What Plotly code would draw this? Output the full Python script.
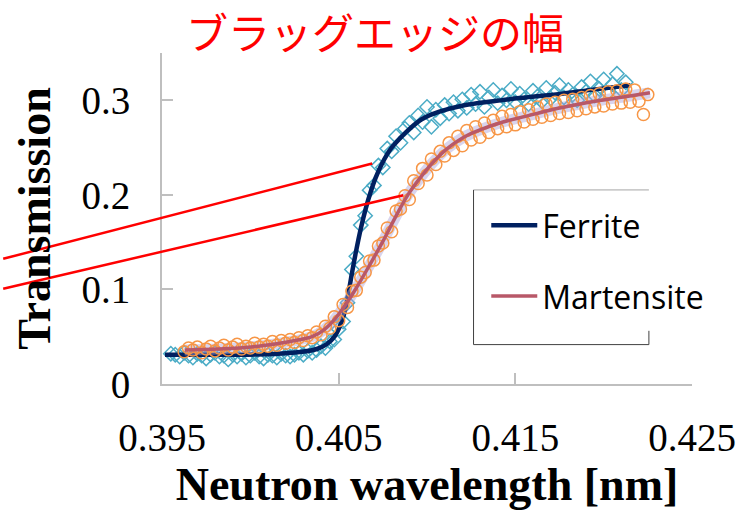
import plotly.graph_objects as go

# ---------------- data ----------------
wavelength = [
    0.39550, 0.39575, 0.39600, 0.39625, 0.39650, 0.39675, 0.39700, 0.39725, 0.39750, 0.39775,
    0.39800, 0.39825, 0.39850, 0.39875, 0.39900, 0.39925, 0.39950, 0.39975, 0.40000, 0.40025,
    0.40050, 0.40075, 0.40100, 0.40125, 0.40150, 0.40175, 0.40200, 0.40225, 0.40250, 0.40275,
    0.40300, 0.40325, 0.40350, 0.40375, 0.40400, 0.40425, 0.40450, 0.40475, 0.40500, 0.40525,
    0.40550, 0.40575, 0.40600, 0.40625, 0.40650, 0.40675, 0.40700, 0.40725, 0.40750, 0.40775,
    0.40800, 0.40825, 0.40850, 0.40875, 0.40900, 0.40925, 0.40950, 0.40975, 0.41000, 0.41025,
    0.41050, 0.41075, 0.41100, 0.41125, 0.41150, 0.41175, 0.41200, 0.41225, 0.41250, 0.41275,
    0.41300, 0.41325, 0.41350, 0.41375, 0.41400, 0.41425, 0.41450, 0.41475, 0.41500, 0.41525,
    0.41550, 0.41575, 0.41600, 0.41625, 0.41650, 0.41675, 0.41700, 0.41725, 0.41750, 0.41775,
    0.41800, 0.41825, 0.41850, 0.41875, 0.41900, 0.41925, 0.41950, 0.41975, 0.42000, 0.42025,
    0.42050, 0.42075, 0.42100, 0.42125, 0.42150, 0.42175, 0.42200, 0.42225, 0.42250,
]

ferrite_data = [
    0.032, 0.031, 0.029, 0.033, 0.030, 0.028, 0.032, 0.030, 0.027, 0.031,
    0.033, 0.029, 0.030, 0.026, 0.031, 0.029, 0.032, 0.028, 0.030, 0.033,
    0.029, 0.027, 0.031, 0.030, 0.028, 0.032, 0.030, 0.029, 0.031, 0.033,
    0.031, 0.035, 0.033, 0.036, 0.040, 0.038, 0.045, 0.047, 0.058, 0.066,
    0.086, 0.121, 0.135, 0.168, 0.178, 0.205, 0.210, 0.231, 0.229, 0.249,
    0.246, 0.262, 0.255, 0.270, 0.276, 0.266, 0.284, 0.277, 0.293, 0.272,
    0.290, 0.281, 0.295, 0.286, 0.298, 0.289, 0.301, 0.292, 0.306, 0.296,
    0.309, 0.293, 0.303, 0.311, 0.297, 0.305, 0.300, 0.312, 0.298, 0.307,
    0.301, 0.296, 0.310, 0.304, 0.299, 0.313, 0.302, 0.308, 0.316, 0.303,
    0.311, 0.306, 0.300, 0.314, 0.309, 0.320, 0.305, 0.312, 0.322, 0.308,
    0.317, 0.328, 0.311, 0.319, None, None, None, None, None,
]

martensite_data = [
    None, None, None, 0.034, 0.038, 0.036, 0.039, 0.033, 0.037, 0.040,
    0.035, 0.038, 0.041, 0.036, 0.039, 0.042, 0.037, 0.040, 0.038, 0.043,
    0.039, 0.042, 0.040, 0.045, 0.041, 0.046, 0.043, 0.047, 0.044, 0.049,
    0.046, 0.051, 0.049, 0.055, 0.052, 0.061, 0.059, 0.071, 0.067, 0.084,
    0.081, 0.098, 0.099, 0.113, 0.118, 0.130, 0.131, 0.146, 0.149, 0.165,
    0.161, 0.183, 0.185, 0.199, 0.195, 0.215, 0.212, 0.228, 0.221, 0.238,
    0.232, 0.246, 0.241, 0.255, 0.247, 0.262, 0.252, 0.268, 0.258, 0.272,
    0.261, 0.276, 0.266, 0.279, 0.270, 0.283, 0.272, 0.285, 0.274, 0.288,
    0.277, 0.290, 0.280, 0.293, 0.282, 0.296, 0.284, 0.298, 0.286, 0.300,
    0.287, 0.301, 0.289, 0.303, 0.291, 0.305, 0.293, 0.307, 0.294, 0.309,
    0.296, 0.310, 0.297, 0.312, 0.298, 0.311, 0.299, 0.285, 0.306,
]

ferrite_fit_wl = [0.39517, 0.39711, 0.39933, 0.40154, 0.40293, 0.40376, 0.40432, 0.40476,
                  0.40509, 0.40532, 0.40554, 0.40576, 0.40598, 0.40626, 0.40654, 0.40681,
                  0.40709, 0.40748, 0.40792, 0.40848, 0.40903, 0.40970, 0.41070, 0.41192,
                  0.41375, 0.41558, 0.41763, 0.41929, 0.42151]
ferrite_fit = [0.031, 0.031, 0.031, 0.032, 0.034, 0.037, 0.042, 0.050,
               0.062, 0.075, 0.095, 0.118, 0.140, 0.165, 0.186, 0.203,
               0.218, 0.234, 0.248, 0.260, 0.270, 0.280, 0.288, 0.294,
               0.299, 0.303, 0.307, 0.311, 0.316]

martensite_fit_wl = [0.39628, 0.39822, 0.40044, 0.40227, 0.40349, 0.40415, 0.40476, 0.40543,
                     0.40598, 0.40670, 0.40748, 0.40820, 0.40892, 0.40970, 0.41042, 0.41114,
                     0.41208, 0.41303, 0.41430, 0.41558, 0.41707, 0.41835, 0.41985, 0.42112,
                     0.42262]
martensite_fit = [0.036, 0.037, 0.040, 0.045, 0.050, 0.057, 0.068, 0.085,
                  0.101, 0.124, 0.150, 0.176, 0.200, 0.220, 0.236, 0.249,
                  0.261, 0.269, 0.277, 0.283, 0.290, 0.295, 0.300, 0.3035,
                  0.308]

x_ticks = [0.395, 0.405, 0.415, 0.425]
x_tick_labels = ["0.395", "0.405", "0.415", "0.425"]
y_ticks = [0, 0.1, 0.2, 0.3]
y_tick_labels = ["0", "0.1", "0.2", "0.3"]
X_RANGE = [0.395, 0.425]
Y_RANGE = [0, 0.35]

title_text = "ブラッグエッジの幅"
x_title = "Neutron wavelength [nm]"
y_title = "Transmission"
series_names = ["Ferrite", "Martensite"]

# annotation lines (edge width markers) in data units: (x0, y0, x1, y1)
edge_lines = [(0.38601, 0.1324, 0.40690, 0.2331),
              (0.38601, 0.1007, 0.40866, 0.1996)]

# ---------------- figure ----------------
fig = go.Figure()

fig.add_trace(go.Scatter(
    x=wavelength, y=ferrite_data, mode="markers", showlegend=False,
    marker=dict(symbol="diamond-open", size=11, color="#4bacc6", line=dict(width=1.5, color="#4bacc6")),
))
fig.add_trace(go.Scatter(
    x=ferrite_fit_wl, y=ferrite_fit, mode="lines", name=series_names[0],
    line=dict(color="#002060", width=4.5, shape="spline"), legend="legend",
))
fig.add_trace(go.Scatter(
    x=martensite_fit_wl, y=martensite_fit, mode="lines", showlegend=False,
    line=dict(color="rgba(170,160,215,0.45)", width=11, shape="spline"),
))
fig.add_trace(go.Scatter(
    x=wavelength, y=martensite_data, mode="markers", showlegend=False,
    marker=dict(symbol="circle-open", size=12, color="#f79646", line=dict(width=1.5, color="#f79646")),
))
fig.add_trace(go.Scatter(
    x=martensite_fit_wl, y=martensite_fit, mode="lines", name=series_names[1],
    line=dict(color="#b85868", width=3.5, shape="spline"), legend="legend2",
))


def to_paper(x, y):
    return ((x - X_RANGE[0]) / (X_RANGE[1] - X_RANGE[0]),
            (y - Y_RANGE[0]) / (Y_RANGE[1] - Y_RANGE[0]))


shapes = []
for (x0, y0, x1, y1) in edge_lines:
    px0, py0 = to_paper(x0, y0)
    px1, py1 = to_paper(x1, y1)
    shapes.append(dict(type="line", xref="paper", yref="paper", x0=px0, y0=py0, x1=px1, y1=py1,
                       line=dict(color="#ff0000", width=2.5), layer="above"))

# legend frame (pixel layout converted to paper)
W, H = 748, 512
ML, MR, MT, MB = 162, 45, 53, 123
PW, PH = W - ML - MR, H - MT - MB


def px2paper(px, py):
    return ((px - ML) / PW, (H - MB - py) / PH)


lx0, ly0 = px2paper(480, 192)
lx1, ly1 = px2paper(659, 349)
_, lyr = px2paper(659, 335)
shapes.append(dict(type="line", xref="paper", yref="paper", x0=lx0, y0=ly0, x1=lx1, y1=ly0,
                   line=dict(color="#a6a6a6", width=1)))
shapes.append(dict(type="path", xref="paper", yref="paper",
                   path=f"M {lx0} {ly0} L {lx0} {ly1} L {lx1} {ly1} L {lx1} {lyr}",
                   line=dict(color="#404040", width=1)))

leg1 = px2paper(493, 228)
leg2 = px2paper(493, 300)

axis_common = dict(
    showline=True, linecolor="#bfbfbf", linewidth=2, showgrid=False, zeroline=False,
    ticks="inside", ticklen=11, tickwidth=2, tickcolor="#bfbfbf",
    tickfont=dict(family="Liberation Serif", size=39, color="black"),
    mirror=False,
)

fig.update_layout(
    width=W, height=H,
    margin=dict(l=ML, r=MR, t=MT, b=MB, pad=0),
    paper_bgcolor="white", plot_bgcolor="white",
    title=dict(text=title_text, x=375 / W, y=1 - 34 / H, xanchor="center", yanchor="middle",
               xref="container", yref="container",
               font=dict(family="Noto Sans CJK JP", size=42, color="#ff0000")),
    xaxis=dict(range=X_RANGE, tickvals=x_ticks, ticktext=x_tick_labels, ticklabelstandoff=18,
               title=dict(text=x_title, standoff=9,
                          font=dict(family="Liberation Serif", size=46, color="black", weight="bold")),
               **axis_common),
    yaxis=dict(range=Y_RANGE, tickvals=y_ticks, ticktext=y_tick_labels, ticklabelstandoff=22,
               title=dict(text=y_title, standoff=16,
                          font=dict(family="Liberation Serif", size=46, color="black", weight="bold")),
               **axis_common),
    legend=dict(x=leg1[0], y=leg1[1], xanchor="left", yanchor="middle", bgcolor="rgba(0,0,0,0)",
                borderwidth=0, itemwidth=46,
                font=dict(family="Open Sans", size=32, color="black")),
    legend2=dict(x=leg2[0], y=leg2[1], xanchor="left", yanchor="middle", bgcolor="rgba(0,0,0,0)",
                 borderwidth=0, itemwidth=46,
                 font=dict(family="Open Sans", size=32, color="black")),
    shapes=shapes,
)

fig.write_html("out.html")
